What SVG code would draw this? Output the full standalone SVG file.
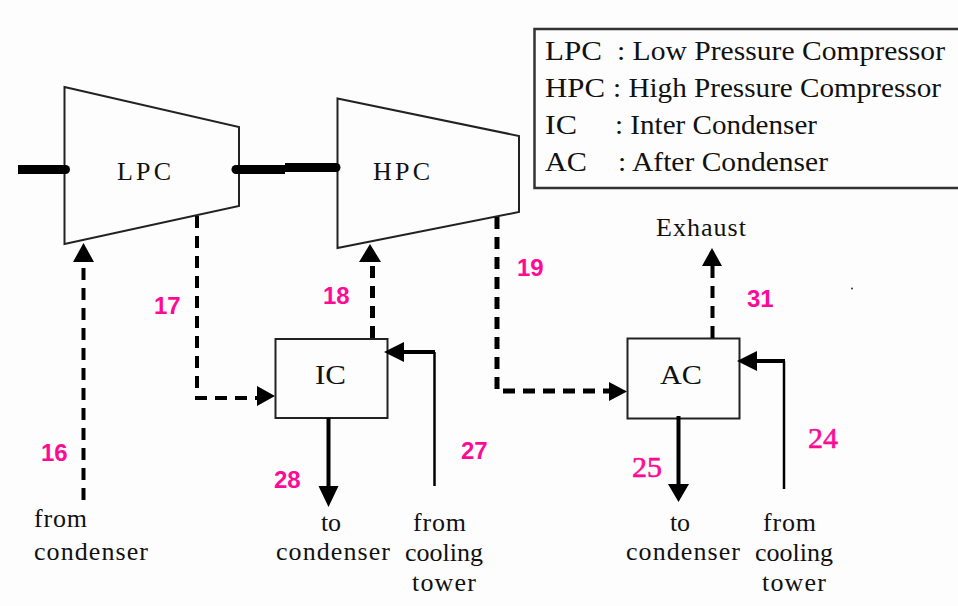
<svg xmlns="http://www.w3.org/2000/svg" width="958" height="606" viewBox="0 0 958 606">
<style>
.s{fill:#fdfdfd;stroke:#222;stroke-width:2}
.t{font-family:"Liberation Serif",serif;font-size:26px;fill:#111}
.g{font-size:28px}
.q{font-size:28px}
.n{font-family:"Liberation Sans",sans-serif;font-size:24px;font-weight:bold;fill:#ff0a96}
.r{font-family:"Liberation Serif",serif;font-size:30px;fill:#ff0a96;stroke:#ff0a96;stroke-width:0.600}
.d{fill:none;stroke:#000;stroke-width:4;stroke-dasharray:12 8}
.d2{fill:none;stroke:#000;stroke-width:5;stroke-dasharray:12 8}
.l{fill:none;stroke:#000;stroke-width:2.500}
.b{fill:none;stroke:#000;stroke-width:4}
.h{fill:none;stroke:#000;stroke-width:9}
.c{stroke-linecap:round}
.a{fill:#000}
</style>
<rect width="958" height="606" fill="#fdfdfd"/>
<g id="legend">
<path fill="none" stroke="#333" stroke-width="2.500" d="M958 29H534.500V188H958"/>
<text class="t g" x="545" y="60" textLength="57" lengthAdjust="spacingAndGlyphs">LPC</text>
<text class="t g" x="617" y="60" textLength="328" lengthAdjust="spacingAndGlyphs">: Low Pressure Compressor</text>
<text class="t g" x="545" y="97" textLength="60" lengthAdjust="spacingAndGlyphs">HPC</text>
<text class="t g" x="613" y="97" textLength="328" lengthAdjust="spacingAndGlyphs">: High Pressure Compressor</text>
<text class="t g" x="545" y="134" textLength="32" lengthAdjust="spacingAndGlyphs">IC</text>
<text class="t g" x="615" y="134" textLength="202" lengthAdjust="spacingAndGlyphs">: Inter Condenser</text>
<text class="t g" x="545" y="171" textLength="42" lengthAdjust="spacingAndGlyphs">AC</text>
<text class="t g" x="618" y="171" textLength="210" lengthAdjust="spacingAndGlyphs">: After Condenser</text>
</g>
<g id="lpc">
<polygon class="s" points="64.500,87 239,127 239,206 64.500,244"/>
<text class="t" x="117" y="180" textLength="54">LPC</text>
</g>
<g id="hpc">
<polygon class="s" points="337.500,98.500 519,136 519,212 337.500,248"/>
<text class="t" x="373" y="180" textLength="57">HPC</text>
</g>
<g id="ic">
<rect class="s" x="275.500" y="339" width="112" height="79"/>
<text class="t g" x="315" y="384" textLength="31" lengthAdjust="spacingAndGlyphs">IC</text>
</g>
<g id="ac">
<rect class="s" x="627.500" y="338.500" width="112" height="80"/>
<text class="t g" x="660" y="384" textLength="42" lengthAdjust="spacingAndGlyphs">AC</text>
</g>
<g id="connectors">
<path class="h" d="M18 169.500H64"/>
<path class="h c" d="M64 169.500H65.500"/>
<path class="h c" d="M236 169.500H240"/>
<path class="h" d="M238 169.500H285"/>
<path class="h" d="M285 167.500H335"/>
<path class="h c" d="M335 167.500H336"/>
<path class="d" d="M83.500 500V262"/>
<polygon class="a" points="83.500,243 73,262 94,262"/>
<path class="d" d="M197 216V398H258"/>
<polygon class="a" points="275,396 257,386 257,406"/>
<path class="d2" d="M372.500 338V262"/>
<polygon class="a" points="370,244 359,262 381,262"/>
<path class="d2" d="M497 217V391H612"/>
<polygon class="a" points="627,391.500 609,382 609,401"/>
<path class="d" d="M712.500 338V265"/>
<polygon class="a" points="712,248 702,266 722,266"/>
<path class="b" d="M328.500 418V490"/>
<polygon class="a" points="328.500,507 318.500,486 338.500,486"/>
<path class="b" d="M678.500 416V488"/>
<polygon class="a" points="678.500,502 668,484 689,484"/>
<path class="l" d="M434.500 486V352"/>
<path class="b" d="M435 352H400"/>
<polygon class="a" points="384,352 404,342 404,362"/>
<path class="l" d="M784 489V361"/>
<path class="b" d="M785 361H752"/>
<polygon class="a" points="737,361 757,351 757,371"/>
</g>
<g id="labels">
<text class="t" x="34" y="527" textLength="53">from</text>
<text class="t" x="34" y="560" textLength="114">condenser</text>
<text class="t" x="321" y="531" textLength="20">to</text>
<text class="t" x="276" y="560" textLength="114">condenser</text>
<text class="t" x="413" y="531" textLength="53">from</text>
<text class="t" x="405" y="561" textLength="78">cooling</text>
<text class="t" x="412" y="591" textLength="64">tower</text>
<text class="t" x="670" y="531" textLength="20">to</text>
<text class="t" x="626" y="560" textLength="114">condenser</text>
<text class="t" x="763" y="531" textLength="53">from</text>
<text class="t" x="755" y="561" textLength="78">cooling</text>
<text class="t" x="762" y="591" textLength="64">tower</text>
<text class="t" x="656" y="236" textLength="90">Exhaust</text>
<text class="n" x="41" y="461">16</text>
<text class="n" x="154" y="314">17</text>
<text class="n" x="323" y="304">18</text>
<text class="n" x="517" y="276">19</text>
<text class="n" x="461" y="459">27</text>
<text class="n" x="274" y="488">28</text>
<text class="n" x="747" y="307">31</text>
<text class="r" x="808" y="448">24</text>
<text class="r" x="632" y="477">25</text>
</g>
<circle cx="852" cy="288.500" r="1" fill="#333"/>
</svg>
